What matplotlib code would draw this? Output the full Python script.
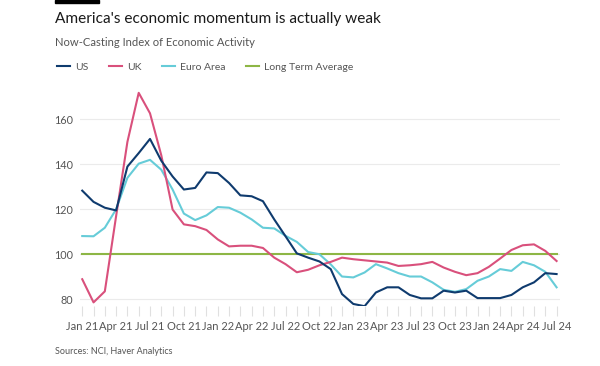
import matplotlib
matplotlib.use("Agg")
import matplotlib.pyplot as plt
from matplotlib.lines import Line2D

# Monthly observations, Jan 2021 .. Jul 2024
months = [
    "Jan 21", "Feb 21", "Mar 21", "Apr 21", "May 21", "Jun 21", "Jul 21", "Aug 21", "Sep 21",
    "Oct 21", "Nov 21", "Dec 21", "Jan 22", "Feb 22", "Mar 22", "Apr 22", "May 22", "Jun 22",
    "Jul 22", "Aug 22", "Sep 22", "Oct 22", "Nov 22", "Dec 22", "Jan 23", "Feb 23", "Mar 23",
    "Apr 23", "May 23", "Jun 23", "Jul 23", "Aug 23", "Sep 23", "Oct 23", "Nov 23", "Dec 23",
    "Jan 24", "Feb 24", "Mar 24", "Apr 24", "May 24", "Jun 24", "Jul 24",
]
us = [
    128.3, 123.3, 120.7, 119.5, 139.0, 145.0, 151.3, 141.6, 134.6, 128.8, 129.5, 136.4,
    136.1, 131.7, 126.2, 125.8, 123.6, 115.5, 108.0, 100.4, 98.5, 96.8, 93.4, 82.3,
    77.9, 76.9, 83.0, 85.3, 85.3, 81.9, 80.4, 80.4, 83.8, 83.0, 83.8, 80.5,
    80.5, 80.5, 81.9, 85.3, 87.5, 91.6, 91.2,
]
uk = [
    88.9, 78.6, 83.5, 117.0, 150.0, 171.8, 162.7, 144.0, 119.9, 113.3, 112.5, 110.8,
    106.6, 103.5, 103.8, 103.8, 102.8, 98.5, 95.6, 92.0, 93.1, 95.1, 96.6, 98.5,
    97.8, 97.3, 96.8, 96.3, 94.8, 95.1, 95.6, 96.6, 94.1, 92.2, 90.7, 91.6,
    94.4, 98.1, 101.9, 104.0, 104.4, 101.5, 97.0,
]
euro_area = [
    108.1, 108.0, 111.8, 120.0, 134.0, 140.3, 142.0, 137.6, 128.8, 118.1, 115.2, 117.3,
    121.0, 120.7, 118.5, 115.5, 111.8, 111.5, 108.2, 105.5, 101.0, 100.0, 95.5, 90.1,
    89.7, 91.9, 95.6, 93.7, 91.6, 90.1, 90.1, 87.5, 84.2, 83.3, 84.5, 88.2,
    90.1, 93.4, 92.6, 96.6, 95.1, 92.2, 85.3,
]
long_term_avg = 100
yticks = [80, 100, 120, 140, 160]

c_us = "#0f3b6e"
c_uk = "#d9507c"
c_eu = "#66ccd8"
c_lta = "#8db645"
c_text = "#555555"
font = "Lato"

fig = plt.figure(figsize=(6, 3.66), dpi=100)
ax = fig.add_axes([0.1333, 0.164, 0.8, 0.602])

x = list(range(len(months)))
ax.plot([x[0], x[-1]], [long_term_avg, long_term_avg], color=c_lta, lw=1.5, zorder=2)
ax.plot(x, euro_area, color=c_eu, lw=1.5, zorder=3)
ax.plot(x, uk, color=c_uk, lw=1.5, zorder=4)
ax.plot(x, us, color=c_us, lw=1.5, zorder=5)

ax.set_xlim(-0.2, 42.3)
ax.set_ylim(77, 175)
ax.set_yticks(yticks)
ax.set_yticklabels([str(v) for v in yticks], fontfamily=font, fontsize=7.8, color=c_text)
ax.tick_params(axis="y", length=0, pad=5)
ax.grid(axis="y", color="#ebebeb", lw=0.8, zorder=0)

ax.set_xticks(x, minor=True)
ax.set_xticks(x[::3])
ax.set_xticklabels(months[::3], fontfamily=font, fontsize=8, color=c_text)
ax.tick_params(axis="x", which="both", length=7, color="#e0e0e0", width=0.8, pad=4)
for s in ax.spines.values():
    s.set_visible(False)

# header
fig.patches.append(plt.Rectangle((55 / 600, 1 - 3 / 366), 44 / 600, 3 / 366,
                                 transform=fig.transFigure, color="black"))
fig.text(55 / 600, 1 - 19 / 366, "America's economic momentum is actually weak",
         fontfamily=font, fontsize=11.1, color="#1a1a1a", va="center")
fig.text(55 / 600, 1 - 43 / 366, "Now-Casting Index of Economic Activity",
         fontfamily=font, fontsize=8.1, color=c_text, va="center")

handles = [Line2D([], [], color=c, lw=1.5) for c in (c_us, c_uk, c_eu, c_lta)]
fig.legend(handles, ["US", "UK", "Euro Area", "Long Term Average"],
           loc="center left", bbox_to_anchor=(48 / 600, 1 - 67 / 366), ncol=4,
           frameon=False, handlelength=1.2, handletextpad=0.5, columnspacing=2.0,
           prop={"family": font, "size": 7.5}, labelcolor=c_text)

fig.text(55 / 600, 1 - 352 / 366, "Sources: NCI, Haver Analytics",
         fontfamily=font, fontsize=6.5, color=c_text, va="center")

fig.savefig("out.png", dpi=100)
